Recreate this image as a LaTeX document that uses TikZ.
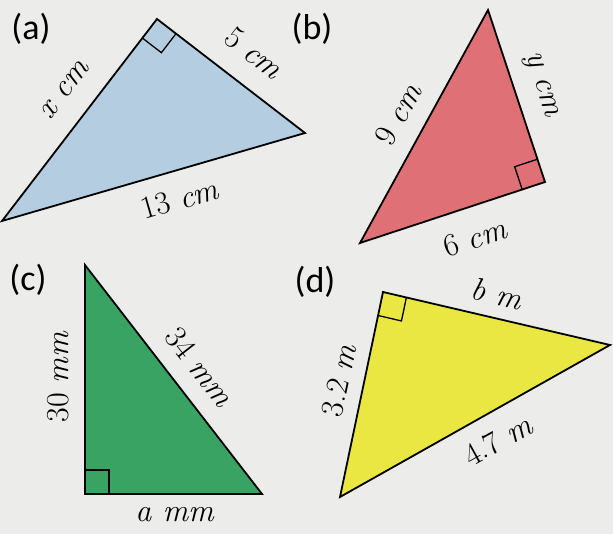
\documentclass[tikz,border=0pt]{standalone}
\usepackage{fontspec}
\newfontfamily\partfont{Carlito}
\usetikzlibrary{calc}

\definecolor{paper}{RGB}{236,236,234}
\definecolor{triblue}{RGB}{180,205,224}
\definecolor{trired}{RGB}{222,112,118}
\definecolor{trigreen}{RGB}{56,163,98}
\definecolor{triyellow}{RGB}{234,230,66}

\tikzset{
  tri/.style={draw=black,line width=1.8pt,line join=miter},
  rightang/.style={draw=black,line width=1.3pt},
  lab/.style={font=\fontsize{32}{34}\selectfont,inner sep=0pt},
  part/.style={font=\partfont\fontsize{36}{38}\selectfont,inner sep=0pt}
}

% right angle mark: vertex, neighbour, neighbour
\newcommand\rtmark[3]{%
  \coordinate (#1p) at ($(#1)!24pt!(#2)$);
  \coordinate (#1q) at ($(#1)!24pt!(#3)$);
  \draw[rightang] (#1p) -- ($(#1p)+(#1q)-(#1)$) -- (#1q);
}

\begin{document}
\begin{tikzpicture}[x=1pt,y=-1pt]
  \fill[paper] (0,0) rectangle (613,534);
  \useasboundingbox (0,0) rectangle (613,534);

  % (a)
  \coordinate (a1) at (2,221);
  \coordinate (a2) at (157,19);
  \coordinate (a3) at (305,133);
  \filldraw[tri,fill=triblue] (a1) -- (a2) -- (a3) -- cycle;
  \rtmark{a2}{a1}{a3}
  \node[part] (pa) at (31,29) {(a)};
  \node[lab,rotate=52] (ax) at (65,90) {\textit{x cm}};
  \node[lab,rotate=-38] (a5) at (254,53) {5 \textit{cm}};
  \node[lab,rotate=16] (a13) at (180,199) {13 \textit{cm}};

  % (b)
  \coordinate (b1) at (360,243);
  \coordinate (b2) at (488,10);
  \coordinate (b3) at (545,182);
  \filldraw[tri,fill=trired] (b1) -- (b2) -- (b3) -- cycle;
  \rtmark{b3}{b1}{b2}
  \node[part] (pb) at (312,29) {(b)};
  \node[lab,rotate=61] (b9) at (398,114) {9 \textit{cm}};
  \node[lab,rotate=-72] (by) at (540,85) {\textit{y cm}};
  \node[lab,rotate=18] (b6) at (475,238) {6 \textit{cm}};

  % (c)
  \coordinate (c1) at (85,265);
  \coordinate (c2) at (85,494);
  \coordinate (c3) at (262,494);
  \filldraw[tri,fill=trigreen] (c1) -- (c2) -- (c3) -- cycle;
  \rtmark{c2}{c1}{c3}
  \node[part] (pc) at (28,280) {(c)};
  \node[lab,rotate=90] (c30) at (58,377) {30 \textit{mm}};
  \node[lab,rotate=-52] (c34) at (200,367) {34 \textit{mm}};
  \node[lab] (ca) at (175,515) {\textit{a mm}};

  % (d)
  \coordinate (d1) at (340,497);
  \coordinate (d2) at (383,292);
  \coordinate (d3) at (610,345);
  \filldraw[tri,fill=triyellow] (d1) -- (d2) -- (d3) -- cycle;
  \rtmark{d2}{d1}{d3}
  \node[part] (pd) at (315,282) {(d)};
  \node[lab,rotate=-13] (db) at (497,294) {\textit{b m}};
  \node[lab,rotate=78] (d32) at (339,380) {3.2 \textit{m}};
  \node[lab,rotate=29] (d47) at (498,440) {4.7 \textit{m}};
\end{tikzpicture}
\end{document}
